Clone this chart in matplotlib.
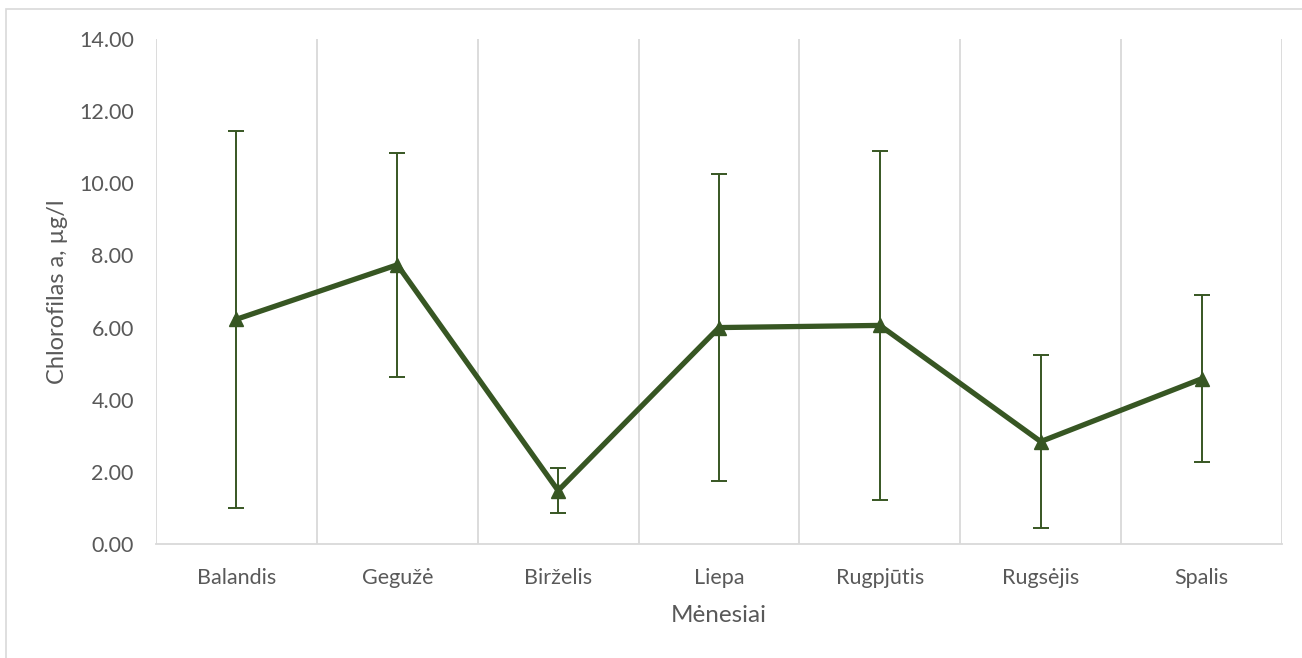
import matplotlib
matplotlib.use("Agg")
import matplotlib.pyplot as plt
from matplotlib.patches import Rectangle
import numpy as np

# Monthly chlorophyll a means and their deviations
months = ["Balandis", "Gegužė", "Birželis", "Liepa", "Rugpjūtis", "Rugsėjis", "Spalis"]
chl_mean = [6.23, 7.74, 1.48, 6.00, 6.06, 2.84, 4.58]
chl_err = [5.22, 3.10, 0.62, 4.26, 4.83, 2.40, 2.31]
y_ticks = [0, 2, 4, 6, 8, 10, 12, 14]

plt.rcParams["font.family"] = ["Lato", "DejaVu Sans"]
text_col = "#595959"
grid_col = "#d9d9d9"
green = "#375623"

W, H = 1302, 658
fig = plt.figure(figsize=(W / 100, H / 100), dpi=100)
ax_l, ax_r, ax_t, ax_b = 156, 1282, 39, 544
ax = fig.add_axes([ax_l / W, 1 - ax_b / H, (ax_r - ax_l) / W, (ax_b - ax_t) / H])

x = np.arange(len(months))
ax.errorbar(x, chl_mean, yerr=chl_err, fmt="none", ecolor=green,
            elinewidth=1.4, capsize=6, capthick=1.4, zorder=3)
ax.plot(x, chl_mean, color=green, linewidth=3.8, marker="^",
        markersize=10, markerfacecolor=green, markeredgecolor=green,
        solid_joinstyle="round", zorder=4)

ax.set_xlim(-0.5, len(months) - 0.5)
ax.set_ylim(0, 14)
ax.set_yticks(y_ticks)
ax.set_yticklabels([f"{v:.2f}" for v in y_ticks])
ax.set_xticks(x)
ax.set_xticklabels(months)

# vertical gridlines between categories
ax.set_xticks(np.arange(-0.5, len(months), 1.0), minor=True)
ax.grid(False)
ax.grid(True, which="minor", axis="x", color=grid_col, linewidth=1.3)
ax.tick_params(which="both", length=0)
ax.tick_params(axis="y", labelsize=15.5, labelcolor=text_col, pad=16)
ax.tick_params(axis="x", labelsize=15.5, labelcolor=text_col, pad=17)

for side in ["top", "right", "left"]:
    ax.spines[side].set_visible(False)
ax.spines["bottom"].set_color(grid_col)
ax.spines["bottom"].set_linewidth(1.3)

ax.set_ylabel("Chlorofilas a, µg/l", fontsize=17, color=text_col)
ax.set_xlabel("Mėnesiai", fontsize=17.5, color=text_col)
pw, ph = ax_r - ax_l, ax_b - ax_t
ax.yaxis.set_label_coords((57 - ax_l) / pw, 0.5)
ax.yaxis.label.set_verticalalignment("center")
ax.xaxis.set_label_coords(0.5, (ax_b - 615) / ph)
ax.xaxis.label.set_verticalalignment("center")

# chart frame
fig.patches.append(Rectangle((6 / W, -0.1), 1.2, 1 - 9 / H + 0.1,
                             transform=fig.transFigure, fill=False,
                             edgecolor=grid_col, linewidth=1.2))

fig.savefig("out.png", dpi=100)
